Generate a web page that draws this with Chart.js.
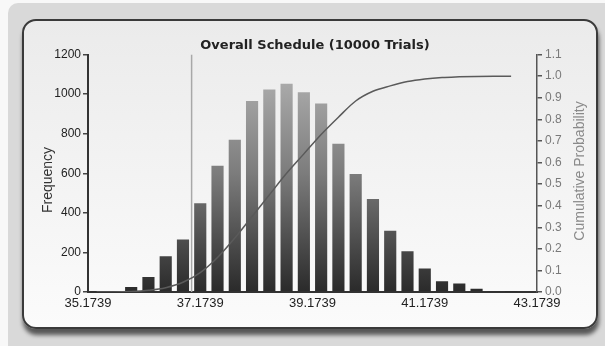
<!DOCTYPE html>
<html>
<head>
<title>Overall Schedule</title>
<script src="https://cdn.jsdelivr.net/npm/chart.js"></script>
<style>
  body { margin:0; background:#f8f8f8; }
  .outer { position:absolute; left:8px; top:3px; width:597px; height:343px; background:#d9d9d9; border-radius:10px 0 0 0; }
  .panel { position:absolute; left:14px; top:16px; width:572px; height:306px; border:2px solid #3a3a3a; border-radius:14px;
           background:linear-gradient(to bottom, #ebebeb, #fbfbfb); box-shadow:1px 6px 4px rgba(0,0,0,0.6); }
  canvas { position:absolute; left:0; top:0; }
</style>
</head>
<body>
<div class="outer"><div class="panel"></div></div>
<canvas id="histChart" width="605" height="346"></canvas>
<script>
// bin centres (schedule duration) and counts
const binCenters = [35.3277, 35.6354, 35.9431, 36.2508, 36.5585, 36.8662, 37.1739, 37.4816, 37.7893,
  38.0970, 38.4047, 38.7124, 39.0201, 39.3278, 39.6355, 39.9432, 40.2509, 40.5586, 40.8663,
  41.1740, 41.4817, 41.7894, 42.0971, 42.4048, 42.7125, 43.0202];
const frequency = [2, 3, 25, 76, 181, 266, 449, 638, 770, 965, 1024, 1053, 1010, 953, 750, 596,
  470, 310, 206, 119, 54, 43, 17, 5, 1, 0];
const cumulative = [0, 0, 0.002, 0.008, 0.02, 0.045, 0.09, 0.16, 0.25, 0.35, 0.45, 0.55, 0.64,
  0.73, 0.81, 0.885, 0.93, 0.955, 0.975, 0.987, 0.994, 0.997, 0.999, 1.0, 1.0];
const markerX = 37.02;

const xTicks = [35.1739, 37.1739, 39.1739, 41.1739, 43.1739];
const freqTicks = [0, 200, 400, 600, 800, 1000, 1200];
const probTicks = [0, 0.1, 0.2, 0.3, 0.4, 0.5, 0.6, 0.7, 0.8, 0.9, 1.0, 1.1];

const FONT = "'Liberation Sans', Arial, sans-serif";

function barFill(c) {
  const a = c.chart.chartArea;
  if (!a) return '#777';
  const g = c.chart.ctx.createLinearGradient(0, a.top, 0, a.bottom);
  g.addColorStop(0, '#b8b8b8');
  g.addColorStop(0.5, '#7c7c7c');
  g.addColorStop(1, '#2a2a2a');
  return g;
}

// both axis titles read bottom-to-top
const axisTitles = {
  id: 'axisTitles',
  afterDraw(chart) {
    const ctx = chart.ctx;
    const put = (text, x, y, size, color) => {
      ctx.save();
      ctx.translate(x, y);
      ctx.rotate(-Math.PI / 2);
      ctx.font = size + 'px ' + FONT;
      ctx.fillStyle = color;
      ctx.textAlign = 'center';
      ctx.textBaseline = 'middle';
      ctx.fillText(text, 0, 0);
      ctx.restore();
    };
    put('Frequency', 48, 180, 14, '#333');
    put('Cumulative Probability', 580, 171, 14, '#8a8a8a');
  }
};

new Chart(document.getElementById('histChart'), {
  type: 'bar',
  data: {
    datasets: [{
      type: 'line',
      data: [{x: markerX, y: 0}, {x: markerX, y: 1.1}],
      yAxisID: 'y1',
      borderColor: '#a8a8a8',
      borderWidth: 1.5,
      pointRadius: 0,
      order: 3
    }, {
      label: 'Frequency',
      data: binCenters.map((x, i) => ({x: x, y: frequency[i]})),
      yAxisID: 'y',
      backgroundColor: barFill,
      borderWidth: 0,
      barPercentage: 0.88,
      categoryPercentage: 0.8,
      order: 2
    }, {
      type: 'line',
      label: 'Cumulative',
      data: cumulative.map((v, i) => ({x: binCenters[i], y: v})),
      yAxisID: 'y1',
      borderColor: '#5a5a5a',
      borderWidth: 1.5,
      pointRadius: 0,
      cubicInterpolationMode: 'monotone',
      order: 1
    }]
  },
  options: {
    responsive: false,
    animation: false,
    layout: { padding: { left: 40, right: 15, top: 34, bottom: 24 } },
    plugins: {
      legend: { display: false },
      tooltip: { enabled: false },
      title: {
        display: true,
        text: 'Overall Schedule (10000 Trials)',
        color: '#222',
        font: { family: "'DejaVu Sans', sans-serif", size: 13, weight: 'bold' },
        padding: { top: 4, bottom: 1 }
      }
    },
    scales: {
      x: {
        type: 'linear',
        offset: false,
        min: 35.1739,
        max: 43.1739,
        afterBuildTicks: s => { s.ticks = xTicks.map(v => ({value: v})); },
        afterFit: s => { s.height = 30; },
        grid: { display: false, drawTicks: false },
        border: { color: '#333', width: 2 },
        ticks: {
          color: '#222', padding: 4, maxRotation: 0,
          font: { family: FONT, size: 13 },
          callback: v => v.toFixed(4)
        }
      },
      y: {
        position: 'left',
        min: 0,
        max: 1200,
        afterBuildTicks: s => { s.ticks = freqTicks.map(v => ({value: v})); },
        afterFit: s => { s.width = 48; },
        grid: { drawOnChartArea: false, drawTicks: true, tickLength: 5, color: '#444', lineWidth: 1.5 },
        border: { color: '#333', width: 2 },
        ticks: { color: '#222', padding: 2, font: { family: FONT, size: 12 }, callback: v => String(v) }
      },
      y1: {
        position: 'right',
        min: 0,
        max: 1.1,
        afterBuildTicks: s => { s.ticks = probTicks.map(v => ({value: v})); },
        afterFit: s => { s.width = 53; },
        grid: { drawOnChartArea: false, drawTicks: true, tickLength: 5, color: '#555', lineWidth: 1.5 },
        border: { color: '#555', width: 1.5 },
        ticks: {
          color: '#7a7a7a', padding: 3,
          font: { family: FONT, size: 12 },
          callback: v => v.toFixed(1)
        }
      }
    }
  },
  plugins: [axisTitles]
});
</script>
</body>
</html>
